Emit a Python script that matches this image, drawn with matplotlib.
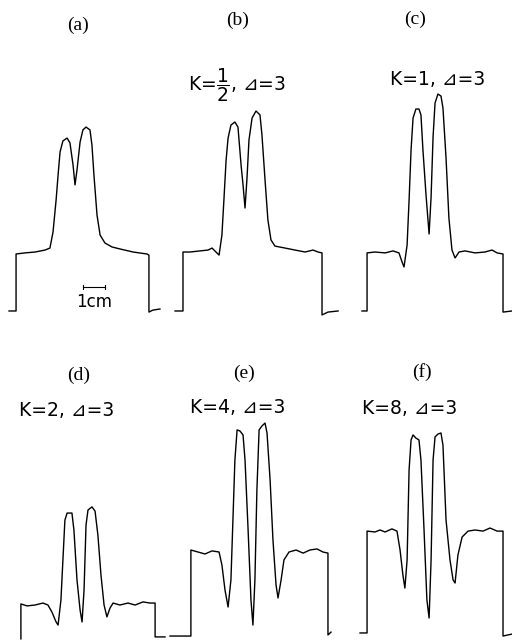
import matplotlib
matplotlib.use("Agg")
import matplotlib.pyplot as plt

# Chart-recorder traces.
# x: mm from the left edge of each panel, y: mm above the bottom of the panel.
a_x = [4.1, 7.3, 7.3, 11.4, 15.9, 20.5, 22.7, 24.1, 25.5, 26.4, 27.3, 28.6, 30.5, 31.8, 33.2,
       34.1, 35.0, 36.4, 37.7, 39.1, 40.9, 41.8, 42.7, 44.1, 45.5, 47.7, 50.9, 54.5, 60.5,
       66.8, 67.7, 67.7, 69.5, 72.7]
a_y = [4.1, 4.1, 30.0, 30.5, 30.9, 31.8, 32.7, 40.0, 54.5, 65.9, 76.4, 81.4, 82.7, 80.5, 70.5,
       61.4, 68.2, 80.9, 86.4, 87.7, 86.4, 79.5, 65.9, 47.7, 38.6, 35.0, 33.2, 32.3, 30.9,
       30.0, 29.5, 3.6, 4.5, 5.0]

b_x = [2.3, 5.9, 5.9, 9.1, 13.6, 17.3, 19.1, 20.9, 22.3, 23.6, 24.5, 25.5, 26.4, 27.7, 29.5,
       30.9, 32.3, 33.2, 34.1, 35.0, 35.9, 37.3, 39.1, 40.9, 41.8, 43.2, 44.5, 45.9, 47.7,
       52.3, 56.8, 61.4, 65.0, 67.3, 69.1, 69.1, 71.8, 76.4]
b_y = [4.1, 4.1, 30.9, 30.9, 31.4, 31.8, 32.7, 30.9, 29.5, 38.6, 54.5, 72.7, 82.7, 88.6, 90.0,
       87.7, 70.5, 61.4, 50.9, 64.5, 81.8, 91.8, 95.0, 93.2, 84.1, 63.6, 45.5, 36.4, 33.6,
       32.7, 31.8, 30.9, 31.8, 30.9, 30.5, 2.3, 3.6, 4.1]

c_x = [10.0, 12.3, 12.3, 15.9, 20.5, 24.1, 26.8, 28.2, 29.1, 30.5, 31.4, 32.3, 33.2, 34.5,
       35.9, 36.8, 37.7, 39.1, 40.5, 41.4, 42.3, 43.2, 44.5, 45.9, 46.8, 48.2, 49.5, 50.9,
       52.3, 54.1, 56.8, 61.4, 65.9, 69.1, 71.4, 74.1, 74.1, 78.2]
c_y = [4.1, 4.1, 30.5, 30.9, 30.5, 31.4, 30.5, 26.4, 24.1, 34.1, 54.5, 77.3, 91.8, 95.9,
       95.9, 93.2, 77.3, 56.8, 39.1, 55.9, 83.2, 98.6, 102.7, 101.8, 96.4, 73.6, 46.4, 31.8,
       28.2, 30.9, 31.4, 30.5, 30.9, 31.8, 30.5, 30.0, 3.6, 4.1]

d_x = [9.5, 9.5, 12.3, 15.9, 19.5, 21.8, 23.6, 25.5, 26.4, 27.7, 28.6, 29.5, 30.5, 32.7,
       33.6, 35.0, 36.4, 37.3, 38.2, 39.1, 40.0, 41.8, 43.2, 44.5, 45.9, 47.3, 48.6, 50.0,
       51.4, 54.5, 58.2, 61.4, 65.0, 68.2, 70.5, 70.5, 75.0]
d_y = [0.5, 16.4, 15.5, 15.9, 16.8, 15.9, 12.7, 8.2, 6.8, 18.2, 36.4, 54.5, 57.7, 57.7,
       50.0, 27.3, 13.6, 8.2, 22.7, 52.3, 59.1, 60.5, 58.6, 47.7, 29.5, 15.9, 10.5, 14.5,
       16.8, 15.9, 16.8, 15.9, 17.3, 16.8, 16.8, 1.4, 1.4]

e_x = [0.0, 9.5, 9.5, 12.7, 15.9, 19.1, 22.3, 23.6, 25.0, 26.4, 27.7, 28.6, 29.5, 30.5,
       31.8, 33.2, 34.1, 35.5, 36.8, 37.7, 38.6, 39.5, 40.5, 41.8, 43.2, 44.1, 45.5, 46.8,
       48.2, 49.1, 50.5, 51.8, 54.1, 57.3, 60.5, 63.6, 66.8, 69.5, 71.8, 71.8, 73.2]
e_y = [1.8, 1.8, 40.9, 40.0, 39.1, 40.5, 40.0, 34.1, 22.7, 15.0, 27.3, 54.5, 81.8, 95.5,
       95.0, 93.2, 81.8, 50.0, 18.2, 6.8, 27.3, 68.2, 95.5, 97.3, 98.6, 94.1, 72.7, 45.5,
       25.0, 19.1, 27.3, 36.4, 40.0, 40.9, 39.5, 40.9, 41.4, 40.0, 39.5, 2.3, 3.6]

f_x = [9.1, 12.3, 12.3, 15.9, 18.2, 20.5, 23.6, 25.9, 27.3, 28.6, 29.5, 30.5, 31.4, 32.3,
       33.2, 34.5, 35.9, 36.8, 38.2, 39.5, 40.5, 41.4, 42.3, 43.2, 44.5, 45.9, 46.8, 48.2,
       50.0, 51.4, 52.3, 53.6, 55.5, 58.2, 61.4, 65.0, 68.2, 71.4, 74.1, 74.1, 78.2]
f_y = [3.2, 3.2, 49.5, 49.1, 50.0, 49.1, 50.5, 49.5, 40.9, 29.5, 23.6, 36.4, 77.3, 90.9,
       93.2, 91.8, 90.9, 81.8, 50.0, 18.2, 10.0, 36.4, 81.8, 92.3, 93.6, 94.1, 88.6, 54.5,
       36.4, 27.3, 25.9, 38.6, 46.8, 49.5, 50.0, 49.5, 50.9, 49.5, 49.5, 1.8, 2.7]

tags = ["(a)", "(b)", "(c)", "(d)", "(e)", "(f)"]
params = ["", r"K=$\dfrac{1}{2}$, ⊿=3", "K=1, ⊿=3", "K=2, ⊿=3", "K=4, ⊿=3", "K=8, ⊿=3"]
traces = [(a_x, a_y), (b_x, b_y), (c_x, c_y), (d_x, d_y), (e_x, e_y), (f_x, f_y)]

# where the tag and the parameter label sit in each panel (mm)
tag_pos = [(35.5, 134.0), (30.5, 136.4), (34.1, 136.8), (35.9, 120.5), (33.6, 121.4), (37.3, 121.8)]
par_pos = [None, (30.5, 106.8), (44.5, 109.1), (30.5, 104.5), (30.9, 105.5), (31.8, 105.0)]

# 1 cm scale bar in panel (a)
bar_x = [37.7, 47.7]
bar_y = 15.0

px_per_mm = 2.2
W, H = 512, 640
fig = plt.figure(figsize=(W / 100, H / 100), dpi=100)

col_left = [0, 170, 340]
for i, (xs, ys) in enumerate(traces):
    col = i % 3
    row = i // 3
    ax = fig.add_axes([col_left[col] / W, 0.5 - 0.5 * row, 172 / W, 0.5])
    ax.set_xlim(0, 172 / px_per_mm)
    ax.set_ylim(0, 320 / px_per_mm)
    ax.axis("off")
    ax.plot(xs, ys, color="black", lw=1.0, clip_on=False)
    ax.text(*tag_pos[i], tags[i], ha="center", va="center", fontsize=14,
            family="Liberation Serif")
    if par_pos[i] is not None:
        ax.text(*par_pos[i], params[i], ha="center", va="center", fontsize=13.5,
                family="DejaVu Sans")
    if i == 0:
        ax.plot(bar_x, [bar_y, bar_y], color="black", lw=0.8)
        for bx in bar_x:
            ax.plot([bx, bx], [bar_y - 0.8, bar_y + 0.8], color="black", lw=0.8)
        ax.text(sum(bar_x) / 2, 8.2, "1cm", ha="center", va="center", fontsize=12)

fig.savefig("out.png", dpi=100)
